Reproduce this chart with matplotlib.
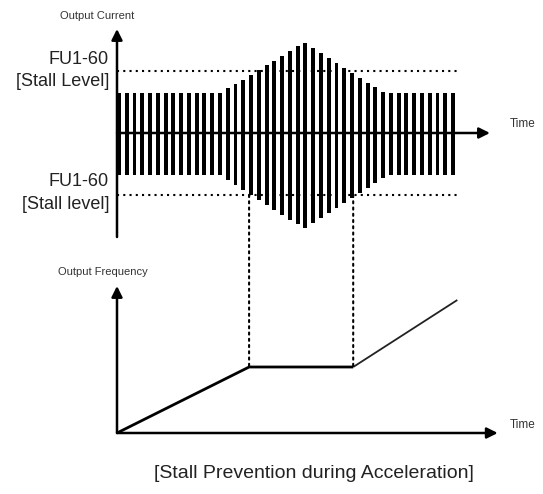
import matplotlib.pyplot as plt
from matplotlib.patches import ConnectionPatch

plt.rcParams['font.family'] = ['Liberation Sans', 'DejaVu Sans']

# output current: one bar per switching pulse, upper / lower envelope
bar_top = [40, 40, 40, 40, 40, 40, 40, 40, 40, 40, 40, 40, 40, 40,
           45, 49, 53, 58, 63, 68, 72, 77, 82, 87, 90,
           85, 80, 75, 70, 65, 60, 55, 50, 46, 41,
           40, 40, 40, 40, 40, 40, 40, 40, 40]
bar_bottom = [42, 42, 42, 42, 42, 42, 42, 42, 42, 42, 42, 42, 42, 42,
              47, 52, 57, 62, 67, 72, 77, 82, 87, 91, 95,
              90, 85, 80, 75, 70, 65, 60, 55, 50, 45,
              42, 42, 42, 42, 42, 42, 42, 42, 42]
bar_t = [i + 0.25 for i in range(len(bar_top))]
stall_level = 62
stall_end = 43.9

# output frequency
freq_t = [0, 17.0, 30.4]
freq_v = [0, 66, 66]
freq_t2 = [30.4, 43.8]
freq_v2 = [66, 133]
stall_start, stall_stop = 17.0, 30.4

W, H = 543, 494
px = 7.77  # pixels per time unit
xlim = (-117 / px, (W - 117) / px)

fig = plt.figure(figsize=(W / 100, H / 100), dpi=100)
top = fig.add_axes([0, 244 / H, 1, 250 / H])
bot = fig.add_axes([0, 0, 1, 244 / H])
top.set_xlim(xlim)
top.set_ylim(-117, 133)
bot.set_xlim(xlim)
bot.set_ylim(-61, 183)
top.axis('off')
bot.axis('off')

# current pulses
heights = [a + b for a, b in zip(bar_top, bar_bottom)]
top.bar(bar_t, heights, bottom=[-b for b in bar_bottom], width=0.5, color='black')

dots = (0, (1, 2))
# stall level lines
for lvl in (stall_level, -stall_level):
    top.plot([0, stall_end], [lvl, lvl], color='black', lw=1.5, linestyle=dots)

arrow = dict(arrowstyle='-|>', mutation_scale=16, lw=1.8, color='black', shrinkA=0, shrinkB=0)
top.annotate('', xy=(0, 104), xytext=(0, -104), arrowprops=arrow)
top.annotate('', xy=(48.0, 0), xytext=(0, 0), arrowprops=arrow)
bot.annotate('', xy=(0, 147), xytext=(0, 0), arrowprops=arrow)
bot.annotate('', xy=(49.0, 0), xytext=(0, 0), arrowprops=arrow)

# frequency curve
bot.plot(freq_t, freq_v, color='black', lw=2, solid_capstyle='butt')
bot.plot(freq_t2, freq_v2, color='#222222', lw=1.3, solid_capstyle='butt')

# dotted links between current crossing and frequency plateau
for t in (stall_start, stall_stop):
    con = ConnectionPatch(xyA=(t, -stall_level), coordsA=top.transData,
                          xyB=(t, 66), coordsB=bot.transData,
                          color='black', lw=1.5, linestyle=dots)
    fig.add_artist(con)

def label(x, y, s, size, ha='center', color='#222222'):
    fig.text(x / W, 1 - y / H, s, fontsize=size, ha=ha, va='center', color=color)

label(97, 16, 'Output Current', 8, color='#333333')
label(109, 59, 'FU1-60', 13, ha='right')
label(109, 81, '[Stall Level]', 13, ha='right')
label(109, 181, 'FU1-60', 13, ha='right')
label(109, 204, '[Stall level]', 13, ha='right')
label(510, 124, 'Time', 8.5, ha='left', color='#333333')
label(103, 272, 'Output Frequency', 8, color='#333333')
label(510, 425, 'Time', 8.5, ha='left', color='#333333')
label(314, 473, '[Stall Prevention during Acceleration]', 14)

fig.savefig('out.png', dpi=100)
